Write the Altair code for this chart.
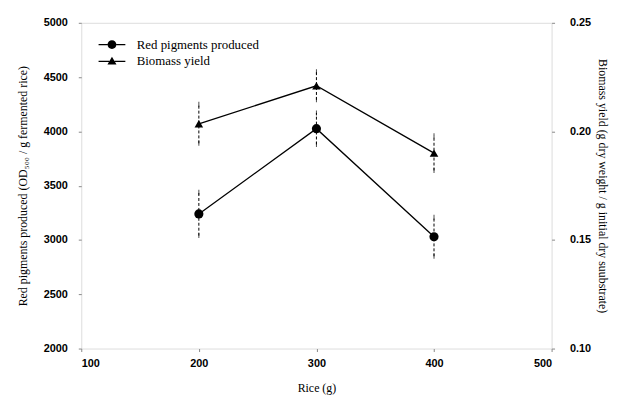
import altair as alt
import pandas as pd

rice = [200, 300, 400]
pigment = [3240, 4025, 3030]
pigment_err = [200, 145, 180]
biomass = [0.2035, 0.221, 0.190]
biomass_err = [0.009, 0.0065, 0.008]
series = ["Red pigments produced", "Biomass yield"]
x_ticks = [100, 200, 300, 400, 500]
left_ticks = [2000, 2500, 3000, 3500, 4000, 4500, 5000]
right_ticks = [0.10, 0.15, 0.20, 0.25]

dp = pd.DataFrame({"rice": rice, "v": pigment,
                   "lo": [v - e for v, e in zip(pigment, pigment_err)],
                   "hi": [v + e for v, e in zip(pigment, pigment_err)]})
db = pd.DataFrame({"rice": rice, "v": biomass,
                   "lo": [v - e for v, e in zip(biomass, biomass_err)],
                   "hi": [v + e for v, e in zip(biomass, biomass_err)]})
dleg = pd.DataFrame({"series": series, "rice": [rice[0]] * 2, "v": [pigment[0]] * 2})

SANS = "Liberation Sans"
SERIF = "Liberation Serif"

x = alt.X("rice:Q", scale=alt.Scale(domain=[100, 500], nice=False),
          axis=alt.Axis(values=x_ticks, title="Rice (g)", titleFont=SERIF, titleFontSize=12,
                        titleFontWeight="normal", labelFont=SANS, labelFontSize=11,
                        labelFontWeight="bold", format="d",
                        grid=False, domain=False, tickSize=3, titlePadding=14, labelPadding=6))

yl_scale = alt.Scale(domain=[2000, 5000], nice=False)
yl_axis = alt.Axis(values=left_ticks, format="d",
                   title="Red pigments produced (OD₅₀₀ / g fermented rice)",
                   titleFont=SERIF, titleFontSize=12, titleFontWeight="normal",
                   labelFont=SANS, labelFontSize=11, labelFontWeight="bold",
                   grid=False, domain=False, tickSize=3,
                   titlePadding=14, labelPadding=11)
yr_scale = alt.Scale(domain=[0.10, 0.25], nice=False)
yr_axis = alt.Axis(values=right_ticks, format=".2f", orient="right",
                   title="Biomass yield (g dry weight / g initial dry suubstrate)",
                   titleFont=SERIF, titleFontSize=12, titleFontWeight="normal",
                   labelFont=SANS, labelFontSize=11, labelFontWeight="bold",
                   grid=False, domain=False, tickSize=3,
                   titlePadding=5, labelPadding=15)

# legend symbols (unit = 8px): line segments drawn as thin filled bars either side of the marker
circ_path = ("M-1.69,-0.07H-0.56V0.07H-1.69Z M0.56,-0.07H1.69V0.07H0.56Z "
             "M0.56,0A0.56,0.56 0 1,1 -0.56,0A0.56,0.56 0 1,1 0.56,0Z")
tri_path = ("M-1.69,-0.07H-0.34V0.07H-1.69Z M0.34,-0.07H1.69V0.07H0.34Z "
            "M0,-0.6L0.57,0.4L-0.57,0.4Z")

base_p = alt.Chart(dp)
left = alt.layer(
    base_p.mark_rule(color="black", strokeWidth=1, strokeDash=[3, 2]).encode(
        x=x, y=alt.Y("lo:Q", scale=yl_scale, axis=yl_axis), y2="hi:Q"),
    base_p.mark_tick(color="black", width=6, thickness=1).encode(x="rice:Q", y="hi:Q"),
    base_p.mark_tick(color="black", width=6, thickness=1).encode(x="rice:Q", y="lo:Q"),
    base_p.mark_line(color="black", strokeWidth=1.3).encode(x="rice:Q", y="v:Q"),
    base_p.mark_point(shape="circle", filled=True, color="black", size=85, opacity=1).encode(
        x="rice:Q", y="v:Q"),
    alt.Chart(dleg).mark_point(filled=True, color="black").encode(
        x="rice:Q", y="v:Q", opacity=alt.value(0),
        shape=alt.Shape("series:N", scale=alt.Scale(domain=series, range=[circ_path, tri_path]),
                        legend=alt.Legend(title=None, orient="none", legendX=22, legendY=13,
                                          labelFont=SERIF, labelFontSize=13, symbolSize=256,
                                          symbolOpacity=1, symbolFillColor="black",
                                          rowPadding=0, labelOffset=16)))
)

base_b = alt.Chart(db)
right = alt.layer(
    base_b.mark_rule(color="black", strokeWidth=1, strokeDash=[3, 2]).encode(
        x="rice:Q", y=alt.Y("lo:Q", scale=yr_scale, axis=yr_axis), y2="hi:Q"),
    base_b.mark_tick(color="black", width=6, thickness=1).encode(x="rice:Q", y="hi:Q"),
    base_b.mark_tick(color="black", width=6, thickness=1).encode(x="rice:Q", y="lo:Q"),
    base_b.mark_line(color="black", strokeWidth=1.3).encode(x="rice:Q", y="v:Q"),
    base_b.mark_point(shape="triangle-up", filled=True, color="black", size=75, opacity=1).encode(
        x="rice:Q", y="v:Q"),
)

chart = alt.layer(left, right).resolve_scale(y="independent").properties(
    width=475, height=329,
    autosize=alt.AutoSizeParams(type="none"),
    padding={"left": 74, "top": 13, "right": 60, "bottom": 50},
).configure_view(stroke="black", strokeWidth=1.5).configure(background="white")

chart.save("out.html", embed_options={"renderer": "svg", "actions": False})
